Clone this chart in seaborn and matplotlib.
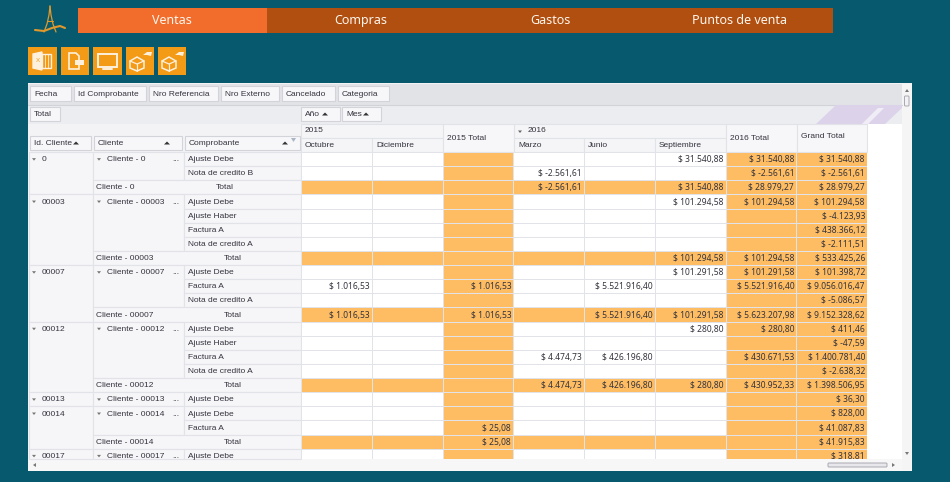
import numpy as np
import pandas as pd
import matplotlib.pyplot as plt
from matplotlib.colors import ListedColormap
from matplotlib.patches import Rectangle, Polygon, FancyBboxPatch
import seaborn as sns

# ----------------------------
# Data
# ----------------------------
months = ["Octubre", "Diciembre", "2015 Total", "Marzo", "Junio", "Septiembre", "2016 Total", "Grand Total"]
total_cols = ["2015 Total", "2016 Total", "Grand Total"]

client_ids = ["0", "00003", "00007", "00012", "00013", "00014", "00017"]
group_docs = [
    ["Ajuste Debe", "Nota de credito B"],
    ["Ajuste Debe", "Ajuste Haber", "Factura A", "Nota de credito A"],
    ["Ajuste Debe", "Factura A", "Nota de credito A"],
    ["Ajuste Debe", "Ajuste Haber", "Factura A", "Nota de credito A"],
    ["Ajuste Debe"],
    ["Ajuste Debe", "Factura A"],
    ["Ajuste Debe"],
]

N = None
octubre = [N, N, N, N, N, N, N, N, N, 1016.53, N, 1016.53, N, N, N, N, N, N, N, N, N, N]
diciembre = [N] * 22
total_2015 = [N, N, N, N, N, N, N, N, N, 1016.53, N, 1016.53, N, N, N, N, N, N, N, 25.08, 25.08, N]
marzo = [N, -2561.61, -2561.61, N, N, N, N, N, N, N, N, N, N, N, 4474.73, N, 4474.73, N, N, N, N, N]
junio = [N, N, N, N, N, N, N, N, N, 5521916.40, N, 5521916.40, N, N, 426196.80, N, 426196.80, N, N, N, N, N]
septiembre = [31540.88, N, 31540.88, 101294.58, N, N, N, 101294.58, 101291.58, N, N, 101291.58,
              280.80, N, N, N, 280.80, N, N, N, N, N]
total_2016 = [31540.88, -2561.61, 28979.27, 101294.58, N, N, N, 101294.58, 101291.58, 5521916.40, N, 5623207.98,
              280.80, N, 430671.53, N, 430952.33, N, N, N, N, N]
grand_total = [31540.88, -2561.61, 28979.27, 101294.58, -4123.93, 438366.12, -2111.51, 533425.26,
               101398.72, 9056016.47, -5086.57, 9152328.62, 411.46, -47.59, 1400781.40, -2638.32,
               1398506.95, 36.30, 828.00, 41087.83, 41915.83, 318.81]

nav_labels = ["Ventas", "Compras", "Gastos", "Puntos de venta"]
filter_fields = ["Fecha", "Id Comprobante", "Nro Referencia", "Nro Externo", "Cancelado", "Categoria"]

# ----------------------------
# Colours
# ----------------------------
TEAL = "#075a6e"
ORANGE = "#febc63"
LINE = "#e2e3e9"
TXT = "#33333d"

sns.set_theme(style="white")
plt.rcParams["font.family"] = ["Noto Sans", "DejaVu Sans"]
FS = 6.0
FS_NUM = 6.1


def money(v):
    if v is None:
        return ""
    s = f"{v:,.2f}".replace(",", "#").replace(".", ",").replace("#", ".")
    return "$ " + s


df = pd.DataFrame(dict(zip(months, [octubre, diciembre, total_2015, marzo, junio, septiembre, total_2016, grand_total])))

# work out which rows are totals from the groups
is_total_row = []
for docs in group_docs:
    is_total_row += [False] * len(docs)
    if len(docs) > 1:
        is_total_row.append(True)

fill = np.zeros(df.shape)
fill[np.array(is_total_row), :] = 1
for c in total_cols:
    fill[:, months.index(c)] = 1
labels = df.astype(object).where(df.notna(), None).map(money).values

fig = plt.figure(figsize=(9.5, 4.82), dpi=100, facecolor=TEAL)

# ----------------------------
# Page chrome, in pixels
# ----------------------------
bg = fig.add_axes([0, 0, 1, 1], zorder=0)
bg.set_xlim(0, 950)
bg.set_ylim(482, 0)
bg.axis("off")


def box(x0, y0, x1, y1, fc, ec="none", lw=0.8, z=1):
    bg.add_patch(Rectangle((x0, y0), x1 - x0, y1 - y0, fc=fc, ec=ec, lw=lw, zorder=z))


def label(x, y, s, ha="left", fs=FS, color=TXT, family="Liberation Sans"):
    bg.text(x, y, s, ha=ha, va="center", fontsize=fs, color=color, zorder=5, family=family)


# nav bar
box(78, 8, 833, 33, "#b04f0f")
box(78, 8, 267, 33, "#f26c2b")
for x, s in zip([172, 361, 550, 739], nav_labels):
    label(x, 20.5, s, ha="center", fs=9, color="#fdf6ee", family="Noto Sans")

# logo
logo = "#e0982c"
bg.plot([50, 49, 47, 44], [6, 15, 24, 32], color=logo, lw=0.9)
bg.plot([50, 51, 53, 56], [6, 15, 24, 32], color=logo, lw=0.9)
bg.plot([35, 44, 52, 60, 65], [30, 31, 28, 26, 28], color=logo, lw=1.5)
bg.plot([47, 53], [21, 21], color=logo, lw=0.8)

# toolbar buttons
for x0, x1 in [(28, 57), (61, 89), (93, 122), (126, 154), (158, 186)]:
    box(x0, 47, x1, 75, "#f39a16")
w = "#fdf0dc"
bg.add_patch(Rectangle((42, 54), 9, 14, fc="none", ec=w, lw=1, zorder=3))
bg.plot([45, 45], [54, 68], color=w, lw=0.6, zorder=3)
bg.plot([48, 48], [54, 68], color=w, lw=0.6, zorder=3)
bg.add_patch(Polygon([[33, 54], [42, 52], [42, 70], [33, 68]], fc=w, ec=w, zorder=3))
label(37.5, 61, "X", ha="center", fs=4.5, color="#f39a16")
bg.add_patch(Polygon([[69, 53], [76, 53], [79, 56], [79, 69], [69, 69]], fc="none", ec=w, lw=1.2, zorder=3))
bg.add_patch(Rectangle((75, 60), 9, 5, fc=w, ec="none", zorder=3))
bg.add_patch(Rectangle((98, 54), 19, 13, fc="none", ec=w, lw=1.4, zorder=3))
bg.plot([103, 112], [69, 69], color=w, lw=1.4, zorder=3)
for x in [130, 162]:
    bg.add_patch(Polygon([[x, 61], [x + 7, 57], [x + 14, 61], [x + 14, 68], [x + 7, 71], [x, 68]],
                         fc="none", ec=w, lw=1.1, zorder=3))
    bg.plot([x, x + 7, x + 14], [61, 64, 61], color=w, lw=0.9, zorder=3)
    bg.plot([x + 7, x + 7], [64, 71], color=w, lw=0.9, zorder=3)
    bg.add_patch(Polygon([[x + 13, 55], [x + 17, 52], [x + 22, 52], [x + 21, 56], [x + 17, 55]], fc=w, ec="none", zorder=3))

# grid panel
box(28, 83, 912, 471, "#f3f3f5")
box(867, 124, 902, 459, "white")
box(28, 84, 902, 104.5, "#e2e3e7")
box(28, 105, 902, 124, "#ecedf1")
bg.plot([28, 902], [104.5, 104.5], color="#d2d3d8", lw=0.8, zorder=2)
bg.add_patch(Polygon([[816, 124], [836, 105], [902, 105], [902, 108], [885, 124]], fc="#dcd3ea", ec="none", zorder=2))
bg.add_patch(Polygon([[862, 124], [878, 108], [884, 108], [868, 124]], fc="#f1edf6", ec="none", zorder=2))
box(902, 84, 912, 471, "#f5f5f6")
box(28, 459, 902, 471, "#f7f7f8")


def button(x0, y0, x1, y1, s, arrow=False):
    box(x0, y0, x1, y1, "#f7f7f9", ec="#d3d4da")
    label(x0 + 4, (y0 + y1) / 2 + 0.5, s)
    if arrow:
        bg.add_patch(Polygon([[x1 - 18, (y0 + y1) / 2 + 1.5], [x1 - 12, (y0 + y1) / 2 + 1.5], [x1 - 15, (y0 + y1) / 2 - 1.5]],
                             fc="#333", ec="none", zorder=5))


for (x0, x1), s in zip([(30, 71), (74, 146), (149, 218), (221, 279), (282, 335), (338, 389)], filter_fields):
    button(x0, 86, x1, 101, s)
button(30, 107, 60, 121, "Total")
button(301, 107, 340, 121, "Año", True)
button(342, 107, 381, 121, "Mes", True)
button(30, 136, 91, 150, "Id. Cliente", True)
button(94, 136, 182, 150, "Cliente", True)
button(185, 136, 300, 150, "Comprobante", True)
bg.add_patch(Polygon([[291, 138], [296, 138], [293.5, 142]], fc="#a9b4c4", ec="none", zorder=5))

# column headers
box(301, 124, 443, 138, "#f5f5f7", ec=LINE)
box(514, 124, 726, 138, "#f5f5f7", ec=LINE)
col_x = [301, 372, 443, 514, 584, 655, 726, 797, 867]
for i, m in enumerate(months):
    if m in total_cols:
        box(col_x[i], 124, col_x[i + 1], 152, "#f7f7f9", ec=LINE)
        label(col_x[i] + 4, 138 if m != "Grand Total" else 136, m)
    else:
        box(col_x[i], 138, col_x[i + 1], 152, "#f5f5f7", ec=LINE)
        label(col_x[i] + 4, 145.5, m)
label(305, 131, "2015")
label(528, 131, "2016")
bg.add_patch(Polygon([[518, 130.5], [522, 130.5], [520, 133]], fc="#666", ec="none", zorder=5))

# row headers
row_h = 14.13
top = 152
row = 0
for cid, docs in zip(client_ids, group_docs):
    n = len(docs)
    span = n + 1 if n > 1 else n
    y0 = top + row * row_h
    ymid = y0 + row_h / 2 + 0.6
    name = "Cliente - " + cid
    box(29, y0, 93, min(y0 + span * row_h, 459), "#f6f6f8", ec=LINE)
    box(93, y0, 184, min(y0 + n * row_h, 459), "#f6f6f8", ec=LINE)
    bg.add_patch(Polygon([[32, ymid - 1.5], [36, ymid - 1.5], [34, ymid + 1]], fc="#777", ec="none", zorder=5))
    bg.add_patch(Polygon([[97, ymid - 1.5], [101, ymid - 1.5], [99, ymid + 1]], fc="#777", ec="none", zorder=5))
    label(42, ymid, cid)
    label(107, ymid, name)
    label(172, ymid, "...")
    for j, d in enumerate(docs):
        yy = y0 + j * row_h
        box(184, yy, 301, min(yy + row_h, 459), "#f6f6f8", ec=LINE)
        label(188, min(yy + row_h / 2 + 0.6, 457), d)
    if n > 1:
        yy = y0 + n * row_h
        box(93, yy, 301, yy + row_h, "#f6f6f8", ec=LINE)
        label(96.5, yy + row_h / 2 + 0.6, name)
        label(224.5 if cid == "0" else 233, yy + row_h / 2 + 0.6, "Total", ha="center")
    row += span

# scrollbars
bg.add_patch(FancyBboxPatch((905.5, 97), 2.5, 8, boxstyle="round,pad=1", fc="#f3f3f5", ec="#a8a8b0", lw=0.7, zorder=3))
bg.add_patch(FancyBboxPatch((829, 464), 57, 2, boxstyle="round,pad=1", fc="#e8e8ec", ec="#a8a8b0", lw=0.7, zorder=3))
bg.add_patch(Polygon([[905, 92], [909, 92], [907, 89]], fc="#777", ec="none", zorder=3))
bg.add_patch(Polygon([[905, 452], [909, 452], [907, 455]], fc="#777", ec="none", zorder=3))
bg.add_patch(Polygon([[36, 463], [36, 467], [33, 465]], fc="#777", ec="none", zorder=3))
bg.add_patch(Polygon([[892, 463], [892, 467], [895, 465]], fc="#777", ec="none", zorder=3))

# ----------------------------
# Pivot values
# ----------------------------
ax = fig.add_axes([301 / 950, 1 - 459 / 482, 566 / 950, 307 / 482], zorder=2)
sns.heatmap(fill, ax=ax, cmap=ListedColormap(["white", ORANGE]), vmin=0, vmax=1, cbar=False,
            annot=labels, fmt="", annot_kws={"fontsize": FS_NUM, "color": TXT},
            linewidths=0.7, linecolor=LINE, xticklabels=False, yticklabels=False)
ax.set_ylim(307 / row_h, 0)
for t in ax.texts:
    x, y = t.get_position()
    t.set_ha("right")
    t.set_x(x + 0.47)
    t.set_y(y + 0.04)
    t.set_clip_on(True)

fig.savefig("out.png", dpi=100, facecolor=TEAL)
plt.close()
